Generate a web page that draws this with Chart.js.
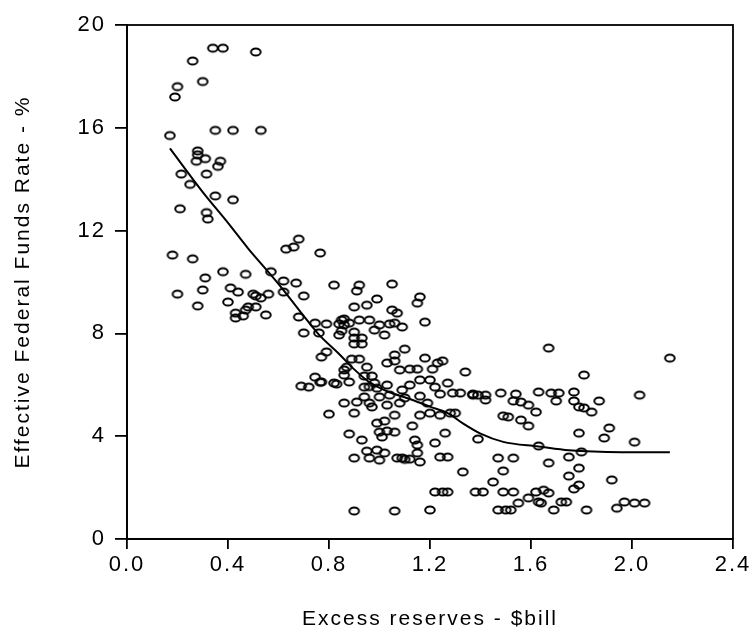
<!DOCTYPE html>
<html>
<head>
<meta charset="utf-8">
<script src="https://cdn.jsdelivr.net/npm/chart.js@4"></script>
<style>
  body { margin: 0; background: #fff; }
  #wrap { width: 754px; height: 634px; }
</style>
</head>
<body>
<div id="wrap"><canvas id="chart"></canvas></div>
<script>
// excess reserves ($bill) and effective fed funds rate (%)
const reserves = [
  0.34,0.38,0.51,0.26,0.30,0.20,0.19,0.35,0.42,0.53,0.17,0.28,0.28,0.31,0.275,0.37,0.36,0.215,0.315,0.25,
  0.35,0.42,0.21,0.315,0.32,0.68,0.66,0.63,0.765,0.18,0.26,0.38,0.47,0.57,0.31,0.62,0.67,0.82,0.20,0.30,
  0.41,0.44,0.50,0.51,0.56,0.53,0.62,0.70,0.40,0.28,0.48,0.51,0.47,0.43,0.46,0.43,0.55,0.68,0.745,0.79,
  0.85,0.86,0.70,0.76,0.84,0.79,0.77,0.92,0.91,1.05,0.99,0.95,0.90,1.16,1.15,1.05,1.07,0.86,0.84,0.88,
  0.92,0.96,1.00,1.04,1.06,1.09,1.18,0.85,0.90,0.98,1.02,0.90,0.93,0.90,0.93,1.10,1.06,1.18,1.03,1.06,
  1.25,1.23,0.89,0.92,0.87,0.95,0.86,1.08,1.12,1.15,1.21,1.34,0.86,0.94,0.97,0.77,0.82,0.88,0.98,1.03,
  1.12,1.16,1.20,1.22,1.27,0.94,0.96,0.99,1.09,0.94,1.00,1.04,1.10,1.16,1.24,1.29,1.32,1.37,0.86,0.91,
  0.96,1.03,1.08,1.19,0.80,0.90,0.97,1.06,1.16,1.20,1.24,1.28,1.30,0.99,1.02,1.13,1.00,1.03,1.06,0.88,
  1.01,0.93,1.26,1.14,1.15,1.22,1.39,0.95,0.99,1.02,1.15,0.90,0.96,1.00,1.07,1.09,1.10,1.12,1.16,1.24,
  1.27,1.33,1.22,1.25,1.27,1.38,0.90,1.06,1.20,1.67,2.15,1.81,1.37,1.39,1.42,1.48,1.54,1.63,1.68,1.71,
  1.77,2.03,1.42,1.53,1.56,1.59,1.70,1.77,1.79,1.81,1.84,1.87,1.62,1.49,1.51,1.56,1.59,1.91,1.79,1.89,
  2.01,1.63,1.80,1.47,1.53,1.75,1.67,1.49,1.79,1.75,1.92,1.45,1.79,1.77,1.41,1.49,1.53,1.62,1.65,1.67,
  1.59,1.55,1.63,1.64,1.72,1.74,1.47,1.50,1.52,1.69,1.82,1.94,1.97,2.01,2.05,0.69,0.72,0.745,0.765,0.83
];
const rates = [
  19.1,19.1,18.95,18.6,17.8,17.6,17.2,15.9,15.9,15.9,15.7,15.1,14.95,14.8,14.7,14.7,14.5,14.2,14.2,13.8,
  13.35,13.2,12.85,12.7,12.45,11.67,11.36,11.28,11.13,11.05,10.9,10.4,10.3,10.4,10.16,10.04,9.96,9.88,9.53,9.69,
  9.77,9.61,9.53,9.46,9.53,9.38,9.61,9.46,9.22,9.07,9.03,9.03,8.91,8.79,8.68,8.6,8.72,8.64,8.4,8.37,
  8.52,8.33,8.02,8.02,7.94,7.28,7.08,9.88,9.65,9.92,9.34,9.1,9.03,9.42,9.18,8.91,8.79,8.56,8.37,8.4,
  8.52,8.52,8.33,8.37,8.4,8.25,8.44,8.1,8.05,8.13,7.94,7.82,7.82,7.59,7.59,7.39,7.16,7.04,6.85,6.93,
  6.93,6.85,7.0,7.0,6.69,6.69,6.58,6.58,6.61,6.61,6.61,6.5,6.38,6.34,6.34,6.11,6.07,6.11,6.07,5.99,
  5.99,6.19,6.19,5.91,6.07,5.91,5.93,5.87,5.8,5.53,5.53,5.6,5.49,5.56,5.64,5.68,5.68,5.64,5.29,5.33,
  5.29,5.21,5.29,5.29,4.86,4.9,5.14,4.82,4.82,4.9,4.82,4.9,4.9,4.51,4.59,4.4,4.16,4.2,4.16,4.09,
  3.97,3.85,4.12,3.85,3.66,3.74,3.89,3.42,3.46,3.35,3.35,3.15,3.15,3.07,3.15,3.15,3.1,3.11,3.0,3.19,
  3.19,2.61,1.83,1.83,1.83,1.83,1.09,1.09,1.13,7.43,7.04,6.38,5.6,5.6,5.6,5.68,5.64,5.72,5.68,5.68,
  5.72,5.6,5.41,5.37,5.33,5.21,5.37,5.37,5.14,5.1,4.94,5.37,4.94,4.79,4.75,4.63,4.4,4.32,4.12,3.93,
  3.77,3.62,3.39,3.15,3.15,3.19,2.96,2.65,2.76,2.45,2.3,2.22,2.1,1.95,1.83,1.83,1.83,1.83,1.9,1.79,
  1.6,1.4,1.44,1.4,1.44,1.44,1.13,1.13,1.13,1.13,1.13,1.2,1.44,1.4,1.4,5.95,5.91,6.3,6.1,6.03
];
// fitted curve
const fitX = [0.17,0.30,0.40,0.48,0.55,0.61,0.69,0.76,0.84,0.90,0.96,1.03,1.12,1.20,1.27,1.33,1.40,1.49,1.63,1.75,1.96,2.15];
const fitY = [15.2,13.5,12.3,11.3,10.5,9.8,8.8,7.95,7.2,6.6,6.1,5.75,5.45,5.15,4.9,4.5,4.1,3.78,3.6,3.45,3.38,3.38];

const xTicks = [0.0,0.4,0.8,1.2,1.6,2.0,2.4];
const yTicks = [0,4,8,12,16,20];

// open ellipse marker
function ellipseMarker(){
    let c = document.createElement('canvas');
    c.width = 14; c.height = 12;
    let g = c.getContext('2d');
    g.strokeStyle = '#000';
    g.lineWidth = 2;
    g.beginPath();
    g.ellipse(7, 6, 4.8, 3.6, 0, 0, Math.PI*2);
    g.stroke();
    return c;
}

let points = [];
for(let i = 0; i < reserves.length; i++)
    points.push({x: reserves[i], y: rates[i]});
let fit = [];
for(let i = 0; i < fitX.length; i++)
    fit.push({x: fitX[i], y: fitY[i]});

const frame = {
  id: 'frame',
  beforeDraw(chart){ chart.ctx.letterSpacing = '2px'; },
  afterDraw(chart){
    const a = chart.chartArea, ctx = chart.ctx;
    ctx.save();
    ctx.strokeStyle = '#000';
    ctx.lineWidth = 1.8;
    ctx.strokeRect(a.left, a.top, a.right - a.left, a.bottom - a.top);
    ctx.restore();
  }
};

const marker = ellipseMarker();
const tickFont = {family: 'Liberation Sans', size: 22};
const titleFont = {family: 'Liberation Sans', size: 21};

new Chart(document.getElementById('chart').getContext('2d'), {
  type: 'scatter',
  data: {
    datasets: [{
      data: points,
      pointStyle: marker,
      pointRadius: 5,
      pointHoverRadius: 5
    }, {
      data: fit,
      showLine: true,
      borderColor: '#000',
      borderWidth: 2,
      pointRadius: 0,
      cubicInterpolationMode: 'monotone'
    }]
  },
  options: {
    responsive: true,
    maintainAspectRatio: false,
    animation: false,
    events: [],
    layout: {padding: {left: 0, right: 21, top: 25, bottom: 0}},
    plugins: {legend: {display: false}, tooltip: {enabled: false}},
    scales: {
      x: {
        type: 'linear', min: 0, max: 2.4,
        afterBuildTicks: s => { s.ticks = xTicks.map(v => ({value: v})); },
        afterFit: s => { s.height = 95; },
        grid: {display: true, drawOnChartArea: false, drawTicks: true, tickLength: 10, color: '#000', lineWidth: 1.8},
        border: {display: true, color: '#000', width: 1.8},
        ticks: {color: '#000', font: tickFont, padding: 3, maxRotation: 0, callback: v => v.toFixed(1)},
        title: {display: true, text: 'Excess reserves - $bill', color: '#000', font: titleFont, padding: {top: 0, bottom: 2}}
      },
      y: {
        type: 'linear', min: 0, max: 20,
        afterBuildTicks: s => { s.ticks = yTicks.map(v => ({value: v})); },
        afterFit: s => { s.width = 127; },
        grid: {display: true, drawOnChartArea: false, drawTicks: true, tickLength: 12, color: '#000', lineWidth: 1.8},
        border: {display: true, color: '#000', width: 1.8},
        ticks: {color: '#000', font: tickFont, padding: 9},
        title: {display: true, text: 'Effective Federal Funds Rate - %', color: '#000', font: titleFont, padding: {top: 11, bottom: 0}}
      }
    }
  },
  plugins: [frame]
});
</script>
</body>
</html>
